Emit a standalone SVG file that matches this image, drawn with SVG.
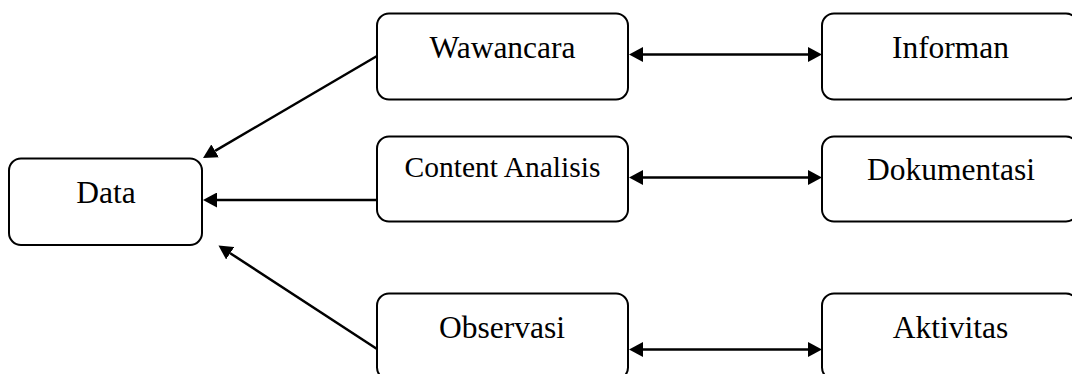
<svg xmlns="http://www.w3.org/2000/svg" width="1072" height="374" viewBox="0 0 1072 374">
<defs>
<style>
.box{fill:#fff;stroke:#000;stroke-width:2}
.lbl{font-family:"Liberation Serif","Times New Roman",serif;font-size:31.5px;fill:#000;text-anchor:middle}
.edge{stroke:#000;stroke-width:2.5;fill:none}
</style>
<marker id="ah" markerUnits="userSpaceOnUse" markerWidth="14" markerHeight="15" refX="0" refY="7.5" orient="auto-start-reverse">
<path d="M0,0 L14,7.5 L0,15 z" fill="#000"/>
</marker>
</defs>
<rect width="1072" height="374" fill="#fff"/>
<g id="connectors">
<line class="edge" x1="377" y1="56" x2="215.1" y2="150.9" marker-end="url(#ah)"/>
<line class="edge" x1="377" y1="200" x2="217" y2="200" marker-end="url(#ah)"/>
<line class="edge" x1="377" y1="349" x2="230.2" y2="253.2" marker-end="url(#ah)"/>
<line class="edge" x1="643" y1="54.5" x2="808" y2="54.5" marker-start="url(#ah)" marker-end="url(#ah)"/>
<line class="edge" x1="643" y1="177.5" x2="808" y2="177.5" marker-start="url(#ah)" marker-end="url(#ah)"/>
<line class="edge" x1="643" y1="349.5" x2="808" y2="349.5" marker-start="url(#ah)" marker-end="url(#ah)"/>
</g>
<g id="data"><rect class="box" x="9" y="158.5" width="193" height="86.5" rx="12"/><text class="lbl" x="106" y="203">Data</text></g>
<g id="wawancara"><rect class="box" x="377" y="13.5" width="251" height="86" rx="12"/><text class="lbl" x="502.5" y="58">Wawancara</text></g>
<g id="content-analisis"><rect class="box" x="377" y="136.5" width="251" height="85" rx="12"/><text class="lbl" x="502.5" y="177" style="font-size:29.5px">Content Analisis</text></g>
<g id="observasi"><rect class="box" x="377" y="293.5" width="251" height="86" rx="12"/><text class="lbl" x="502" y="338">Observasi</text></g>
<g id="informan"><rect class="box" x="822" y="13.5" width="256" height="86" rx="12"/><text class="lbl" x="950.5" y="58">Informan</text></g>
<g id="dokumentasi"><rect class="box" x="822" y="136.5" width="256" height="85" rx="12"/><text class="lbl" x="951" y="180">Dokumentasi</text></g>
<g id="aktivitas"><rect class="box" x="822" y="293.5" width="256" height="86" rx="12"/><text class="lbl" x="950.5" y="338">Aktivitas</text></g>
</svg>
